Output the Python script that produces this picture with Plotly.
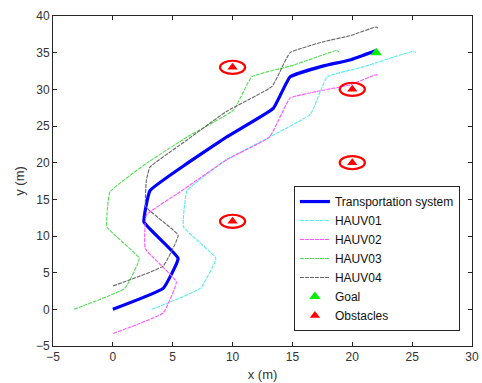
import plotly.graph_objects as go

# Data
ts_x = [0.0, 4.2, 5.45, 2.6, 3.1, 6.2, 9.5, 13.4, 14.8, 17.6, 19.8, 22.0]
ts_y = [0.0, 2.85, 6.95, 11.9, 16.2, 19.9, 23.5, 27.4, 31.7, 33.2, 34.0, 35.3]

h1_x = [3.25, 7.3, 8.6, 5.9, 6.2, 9.5, 13.1, 16.5, 17.9, 21.0, 25.1, 25.3]
h1_y = [0.0, 2.85, 6.95, 11.25, 16.2, 20.4, 23.5, 26.6, 31.7, 33.1, 35.2, 35.0]

h2_x = [0.03, 4.2, 5.3, 2.7, 2.8, 5.6, 9.5, 13.1, 14.8, 17.0, 19.8, 22.0, 22.2]
h2_y = [-3.3, -0.5, 3.75, 8.3, 12.85, 16.0, 20.4, 23.5, 28.8, 29.7, 30.6, 32.0, 31.8]

h3_x = [-3.25, 1.0, 2.2, -0.5, -0.25, 2.8, 6.2, 10.1, 11.6, 15.1, 18.7, 18.9]
h3_y = [0.0, 2.85, 6.95, 11.25, 16.0, 19.9, 23.5, 27.2, 31.7, 33.3, 35.3, 35.1]

h4_x = [0.03, 4.2, 5.45, 2.75, 2.8, 3.1, 6.2, 9.5, 13.3, 14.8, 17.6, 19.8, 22.0, 22.2]
h4_y = [3.2, 5.9, 10.1, 14.0, 17.6, 19.4, 23.1, 27.0, 30.4, 35.0, 36.5, 37.3, 38.5, 38.3]

goal_x = [22]
goal_y = [35]

obs_x = [10, 20, 20, 10]
obs_y = [33, 30, 20, 12]
obs_rx = 1.05
obs_ry = 0.9

x_ticks = [-5, 0, 5, 10, 15, 20, 25, 30]
y_ticks = [-5, 0, 5, 10, 15, 20, 25, 30, 35, 40]

FONT = "Liberation Sans, Arial, sans-serif"

fig = go.Figure()

fig.add_trace(go.Scatter(x=ts_x, y=ts_y, mode="lines", name="Transportation system",
                         line=dict(color="#0000ff", width=3.2, shape="spline", smoothing=0.3)))
thin = dict(width=1.1, dash="4px,1px", shape="spline", smoothing=0.3)
fig.add_trace(go.Scatter(x=h1_x, y=h1_y, mode="lines", name="HAUV01",
                         line=dict(color="#55eeee", **thin)))
fig.add_trace(go.Scatter(x=h2_x, y=h2_y, mode="lines", name="HAUV02",
                         line=dict(color="#ff55ff", **thin)))
fig.add_trace(go.Scatter(x=h3_x, y=h3_y, mode="lines", name="HAUV03",
                         line=dict(color="#55dd55", **thin)))
fig.add_trace(go.Scatter(x=h4_x, y=h4_y, mode="lines", name="HAUV04",
                         line=dict(color="#666666", **thin)))
fig.add_trace(go.Scatter(x=goal_x, y=goal_y, mode="markers", name="Goal",
                         marker=dict(symbol="triangle-up", color="#00ee00", size=10)))
fig.add_trace(go.Scatter(x=obs_x, y=obs_y, mode="markers", name="Obstacles",
                         marker=dict(symbol="triangle-up", color="#ff0000", size=9)))

for ox, oy in zip(obs_x, obs_y):
    fig.add_shape(type="circle", xref="x", yref="y",
                  x0=ox - obs_rx, x1=ox + obs_rx, y0=oy - obs_ry, y1=oy + obs_ry,
                  line=dict(color="#ff0000", width=2.2), layer="above")

axis_common = dict(showline=True, mirror="ticks", linecolor="#262626", linewidth=1,
                   ticks="inside", ticklen=4, tickcolor="#262626", showgrid=False,
                   zeroline=False, automargin=False,
                   tickfont=dict(family=FONT, size=12, color="#333333"))

fig.update_xaxes(range=[-5, 30], tickvals=x_ticks,
                 title=dict(text="x (m)", standoff=6,
                            font=dict(family=FONT, size=13, color="#333333")),
                 **axis_common)
fig.update_yaxes(range=[-5, 40], tickvals=y_ticks,
                 title=dict(text="y (m)", standoff=8,
                            font=dict(family=FONT, size=13, color="#333333")),
                 **axis_common)

fig.update_layout(
    width=482, height=383,
    margin=dict(l=53, r=10, t=16, b=37),
    plot_bgcolor="white", paper_bgcolor="white",
    legend=dict(x=0.575, y=0.265, xanchor="left", yanchor="middle",
                bgcolor="white", bordercolor="#262626", borderwidth=1,
                font=dict(family=FONT, size=12, color="#111111"),
                tracegroupgap=0),
    showlegend=True,
)

fig.write_html("out.html")
